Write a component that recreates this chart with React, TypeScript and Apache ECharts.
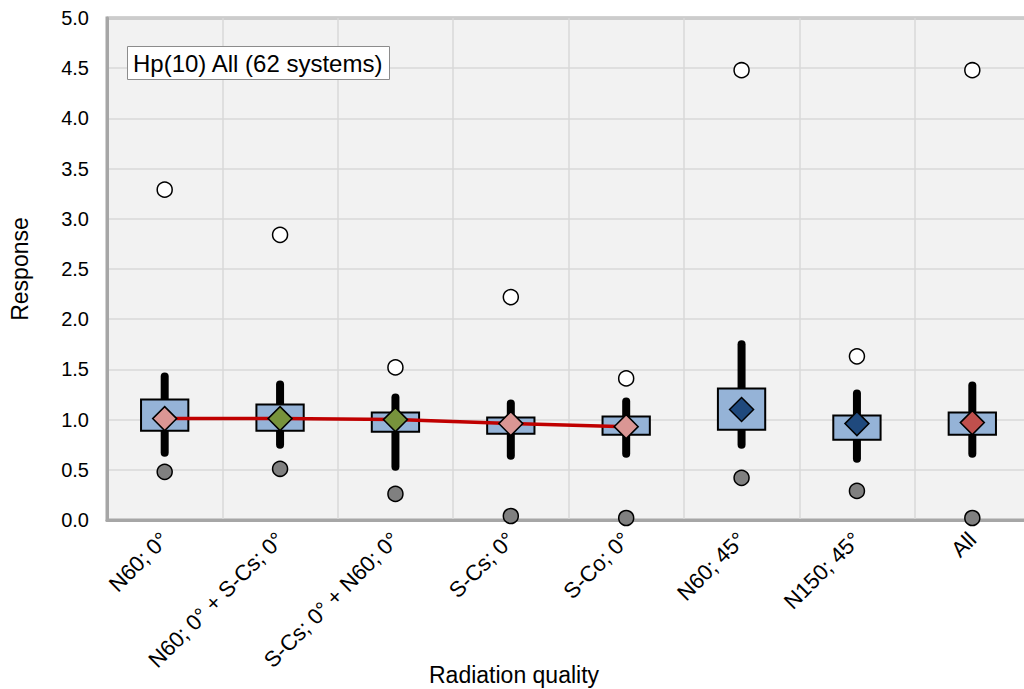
import React, { useEffect, useRef } from "react";
import * as echarts from "echarts";

const categories = [
  "N60; 0°",
  "N60; 0° + S-Cs; 0°",
  "S-Cs; 0° + N60; 0°",
  "S-Cs; 0°",
  "S-Co; 0°",
  "N60; 45°",
  "N150; 45°",
  "All",
];
const meanValues = [1.01, 1.01, 1.0, 0.96, 0.93, 1.1, 0.96, 0.97];
const boxLow = [0.89, 0.89, 0.88, 0.86, 0.85, 0.9, 0.8, 0.85];
const boxHigh = [1.2, 1.15, 1.07, 1.02, 1.03, 1.31, 1.04, 1.07];
const whiskerLow = [0.67, 0.75, 0.53, 0.64, 0.66, 0.75, 0.61, 0.66];
const whiskerHigh = [1.43, 1.35, 1.22, 1.16, 1.18, 1.75, 1.26, 1.34];
const minValues = [0.48, 0.51, 0.26, 0.04, 0.02, 0.42, 0.29, 0.02];
const maxValues = [3.29, 2.84, 1.52, 2.22, 1.41, 4.48, 1.63, 4.48];
const trendValues = [1.01, 1.01, 1.0, 0.96, 0.93];
const diamondColors = [
  "#DA9694",
  "#77933C",
  "#77933C",
  "#DA9694",
  "#DA9694",
  "#1F497D",
  "#1F497D",
  "#C0504D",
];

const FONT = "'Liberation Sans', Arial, sans-serif";

export default function App() {
  const ref = useRef<HTMLDivElement>(null);

  useEffect(() => {
    if (!ref.current) return;
    const chart = echarts.init(ref.current, undefined, { renderer: "svg" });

    const boxData = categories.map((_, i) => [
      i,
      boxLow[i],
      boxHigh[i],
      whiskerLow[i],
      whiskerHigh[i],
    ]);

    const option: any = {
      animation: false,
      textStyle: { fontFamily: FONT },
      title: {
        text: "Hp(10) All (62 systems)",
        left: 127,
        top: 46,
        padding: [3, 6, 3, 6],
        backgroundColor: "#ffffff",
        borderColor: "#8C8C8C",
        borderWidth: 1,
        textStyle: {
          fontFamily: FONT,
          fontSize: 24,
          fontWeight: "normal",
          color: "#000",
          lineHeight: 28,
        },
      },
      graphic: [
        {
          type: "text",
          left: 519 - 90,
          top: 663,
          style: {
            text: "Radiation quality",
            fontFamily: FONT,
            fontSize: 23,
            fill: "#000",
            width: 180,
            align: "center",
          },
        },
      ],
      grid: {
        left: 107,
        right: 10,
        top: 18,
        bottom: 169,
        show: true,
        backgroundColor: "#F2F2F2",
        borderColor: "#A6A6A6",
        borderWidth: 3,
      },
      xAxis: {
        type: "category",
        data: categories,
        boundaryGap: true,
        axisLine: { show: true, lineStyle: { color: "#A6A6A6", width: 3 } },
        axisTick: { show: false },
        axisLabel: {
          rotate: 45,
          interval: 0,
          margin: 16,
          fontFamily: FONT,
          fontSize: 22,
          color: "#000",
        },
        splitLine: {
          show: true,
          interval: 0,
          lineStyle: { color: "#D9D9D9", width: 1.5 },
        },
      },
      yAxis: {
        type: "value",
        min: 0,
        max: 5,
        interval: 0.5,
        name: "Response",
        nameLocation: "middle",
        nameGap: 76,
        nameTextStyle: { fontFamily: FONT, fontSize: 23, color: "#000" },
        axisLine: { show: true, lineStyle: { color: "#A6A6A6", width: 3 } },
        axisTick: { show: false },
        axisLabel: {
          margin: 18,
          fontFamily: FONT,
          fontSize: 20,
          color: "#000",
          formatter: (v: number) => v.toFixed(1),
        },
        splitLine: { show: true, lineStyle: { color: "#D9D9D9", width: 1.5 } },
      },
      series: [
        {
          type: "custom",
          z: 2,
          data: boxData,
          encode: { x: 0, y: [1, 2, 3, 4] },
          renderItem: (params: any, api: any) => {
            const idx = api.value(0);
            const pLow = api.coord([idx, api.value(1)]);
            const pHigh = api.coord([idx, api.value(2)]);
            const wLow = api.coord([idx, api.value(3)]);
            const wHigh = api.coord([idx, api.value(4)]);
            const band = api.size([1, 0])[0];
            const bw = band * 0.41;
            return {
              type: "group",
              children: [
                {
                  type: "line",
                  shape: { x1: wLow[0], y1: wLow[1], x2: wHigh[0], y2: wHigh[1] },
                  style: { stroke: "#000", lineWidth: 8, lineCap: "round" },
                },
                {
                  type: "rect",
                  shape: {
                    x: pHigh[0] - bw / 2,
                    y: pHigh[1],
                    width: bw,
                    height: pLow[1] - pHigh[1],
                  },
                  style: { fill: "#95B3D7", stroke: "#000", lineWidth: 2 },
                },
              ],
            };
          },
        },
        {
          type: "line",
          z: 3,
          data: trendValues,
          showSymbol: false,
          symbol: "none",
          lineStyle: { color: "#C00000", width: 3.5 },
        },
        {
          type: "scatter",
          z: 4,
          symbol: "diamond",
          symbolSize: 24,
          data: meanValues.map((v, i) => ({
            value: v,
            itemStyle: {
              color: diamondColors[i],
              borderColor: "#000",
              borderWidth: 1.5,
              opacity: 1,
            },
          })),
        },
        {
          type: "scatter",
          z: 4,
          symbol: "circle",
          symbolSize: 15,
          data: maxValues,
          itemStyle: { color: "#FFFFFF", borderColor: "#000", borderWidth: 1.5, opacity: 1 },
        },
        {
          type: "scatter",
          z: 4,
          symbol: "circle",
          symbolSize: 15,
          data: minValues,
          itemStyle: { color: "#808080", borderColor: "#000", borderWidth: 1.5, opacity: 1 },
        },
      ],
    };

    chart.setOption(option);
    return () => chart.dispose();
  }, []);

  return (
    <div
      style={{
        position: "absolute",
        left: 0,
        top: 0,
        width: 1024,
        height: 689,
        overflow: "hidden",
        background: "#fff",
      }}
    >
      <div ref={ref} style={{ width: 1040, height: 689 }} />
    </div>
  );
}
